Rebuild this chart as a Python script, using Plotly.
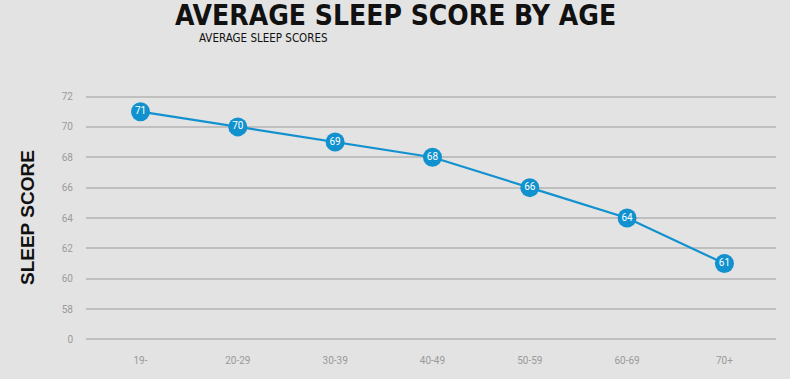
import plotly.graph_objects as go

age_groups = ["19-", "20-29", "30-39", "40-49", "50-59", "60-69", "70+"]
sleep_scores = [71, 70, 69, 68, 66, 64, 61]
y_tick_values = [56, 58, 60, 62, 64, 66, 68, 70, 72]
y_tick_labels = ["0", "58", "60", "62", "64", "66", "68", "70", "72"]

BG = "#e3e3e3"
BLUE = "#1192cf"

fig = go.Figure()
fig.add_trace(go.Scatter(
    x=age_groups, y=sleep_scores,
    mode="lines+markers+text",
    line=dict(color=BLUE, width=2.2),
    marker=dict(size=19, color=BLUE, line=dict(width=0)),
    text=[str(v) for v in sleep_scores],
    textposition="middle center",
    textfont=dict(color="white", size=10, family="Roboto"),
    hoverinfo="skip",
    cliponaxis=False,
))

fig.update_layout(
    width=790, height=379,
    paper_bgcolor=BG, plot_bgcolor=BG,
    margin=dict(l=86, r=14, t=94.5, b=37.5),
    showlegend=False,
    font=dict(family="Roboto", color="#999999"),
    xaxis=dict(
        type="category", range=[-0.56, 6.53],
        showgrid=False, zeroline=False, showline=False,
        tickfont=dict(size=10, color="#9a9a9a", family="Roboto"),
        ticklabelstandoff=12,
    ),
    yaxis=dict(
        range=[55.9, 72.1],
        tickvals=y_tick_values, ticktext=y_tick_labels,
        showgrid=True, gridcolor="#bfbfbf", gridwidth=1.5,
        zeroline=False, showline=False,
        tickfont=dict(size=10, color="#9a9a9a", family="Roboto"),
        ticklabelstandoff=12,
    ),
    annotations=[
        dict(text="<b>AVERAGE SLEEP SCORE BY AGE</b>", xref="paper", yref="paper",
             x=(395 - 86) / 690, y=1, yshift=79.5, showarrow=False,
             xanchor="center", yanchor="middle",
             font=dict(family="DejaVu Sans Condensed", size=28, color="#111111")),
        dict(text="AVERAGE SLEEP SCORES", xref="paper", yref="paper",
             x=(263 - 86) / 690, y=1, yshift=57, showarrow=False,
             xanchor="center", yanchor="middle",
             font=dict(family="DejaVu Sans Condensed", size=11.5, color="#111111")),
        dict(text="<b>SLEEP SCORE</b>", xref="paper", yref="paper",
             x=0, xshift=-59, y=0.5, textangle=-90, showarrow=False,
             xanchor="center", yanchor="middle",
             font=dict(family="Liberation Sans", size=19, color="#111111")),
    ],
)

fig.write_html("out.html", config={"displayModeBar": False},
               post_script="document.body.style.margin='0';")
